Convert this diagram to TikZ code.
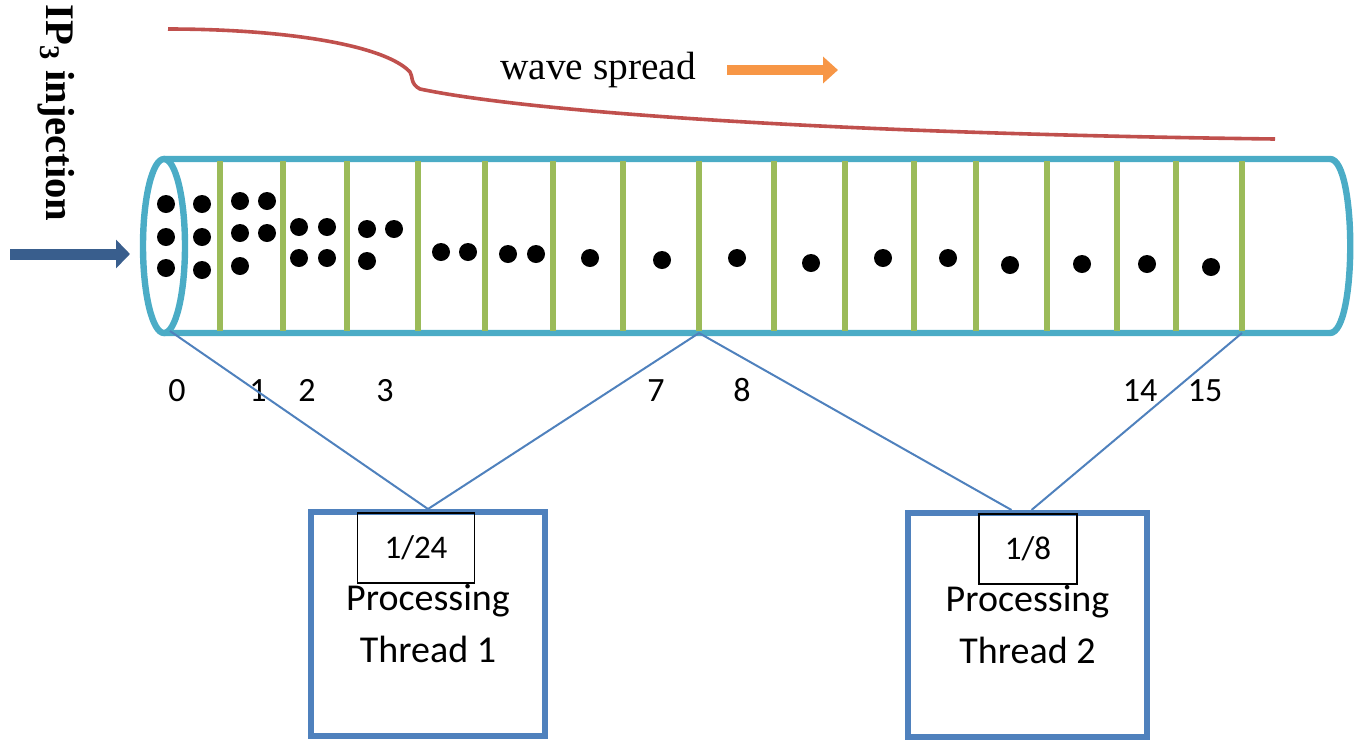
\documentclass[tikz,border=0pt]{standalone}
\usepackage{fontspec}
\setmainfont{Liberation Serif}
\newfontfamily\calibri{Carlito}
\usetikzlibrary{arrows.meta}
\definecolor{tubecyan}{HTML}{4BACC6}
\definecolor{septgreen}{HTML}{9BBB59}
\definecolor{waved}{HTML}{C0504D}
\definecolor{spreadorange}{HTML}{F79646}
\definecolor{linkblue}{HTML}{4F81BD}
\definecolor{injblue}{HTML}{395E8D}

\begin{document}
\begin{tikzpicture}[x=0.5pt,y=-0.5pt,
  tube/.style={tubecyan,line width=3.2pt},
  septum/.style={septgreen,line width=3pt},
  link/.style={linkblue,line width=1pt},
  thread/.style={draw=linkblue,line width=3pt,minimum width=117pt,
    minimum height=112pt,inner sep=0pt,align=center,
    font=\calibri\fontsize{19}{26}\selectfont},
  share/.style={draw=black,line width=0.75pt,minimum height=35pt,anchor=north,
    font=\calibri\fontsize{16.5}{20}\selectfont},
  num/.style={anchor=base,font=\calibri\fontsize{17}{20}\selectfont}]

  \useasboundingbox (0,0) rectangle (1360,741);

  % calcium wave front
  \draw[waved,line width=1.8pt] (168,29) .. controls (285,29) and (385,45) .. (410,72)
    .. controls (413,76) and (410,84) .. (420,89)
    .. controls (520,110) and (800,133) .. (1275,139);

  \node[font=\fontsize{19.7}{23}\selectfont] (wave) at (598,70) {wave spread};
  \draw[spreadorange,line width=5pt,-{Triangle[length=7.5pt,width=13pt]}]
    (727,70) -- (838,70);

  \node[font=\bfseries\fontsize{20.3}{24}\selectfont,rotate=-90] (ip3) at (56,113)
    {IP\textsubscript{3} injection};
  \draw[injblue,line width=5.5pt,-{Triangle[length=7pt,width=14pt]}]
    (10,254) -- (130,254);

  % the cell
  \draw[tube] (164,159) -- (1330,159) .. controls (1357,159) and (1357,333) .. (1330,333)
    -- (164,333);
  \draw[tube] (164,246) ellipse [x radius=10.5pt, y radius=43.5pt];
  \coordinate (rim) at (170,331);

  \foreach \gx [count=\i] in {220,283,347,418,485,553,623,699,774,845,914,976,1047,1117,1176,1242}{
    \draw[septum] (\gx,161) -- (\gx,331);
    \coordinate (g\i) at (\gx,333);
  }

  \foreach \dx/\dy in {166/204,166/237,166/268,202/204,202/237,202/270,
      240/201,240/233,240/266,267/201,267/233,299/227,299/258,327/227,327/258,
      367/229,367/261,394/229,441/252,468/252,508/254,536/254,590/258,662/260,
      737/258,811/263,883/258,948/258,1010/265,1082/264,1147/264,1211/267}{
    \fill (\dx,\dy) circle[radius=4.5pt];
  }

  \foreach \lx/\lt in {177/0,258/1,307/2,385/3,656/7,742/8,1140/14,1205/15}{
    \node[num] (n\lt) at (\lx,401) {\lt};
  }

  % threads
  \node[thread] (th1) at (428,624) {Processing\\Thread 1};
  \node[thread,minimum width=119.5pt] (th2) at (1027.5,625) {Processing\\Thread 2};
  \node[share,minimum width=58.5pt] (sh1) at (416,512) {1/24};
  \node[share,minimum width=49pt] (sh2) at (1028,513) {1/8};

  \draw[link] (rim) -- (th1.north);
  \draw[link] (g8) -- (th1.north);
  \draw[link] (g8) -- ([xshift=-8pt]th2.north);
  \draw[link] (g16) -- ([xshift=2pt]th2.north);

\end{tikzpicture}
\end{document}
